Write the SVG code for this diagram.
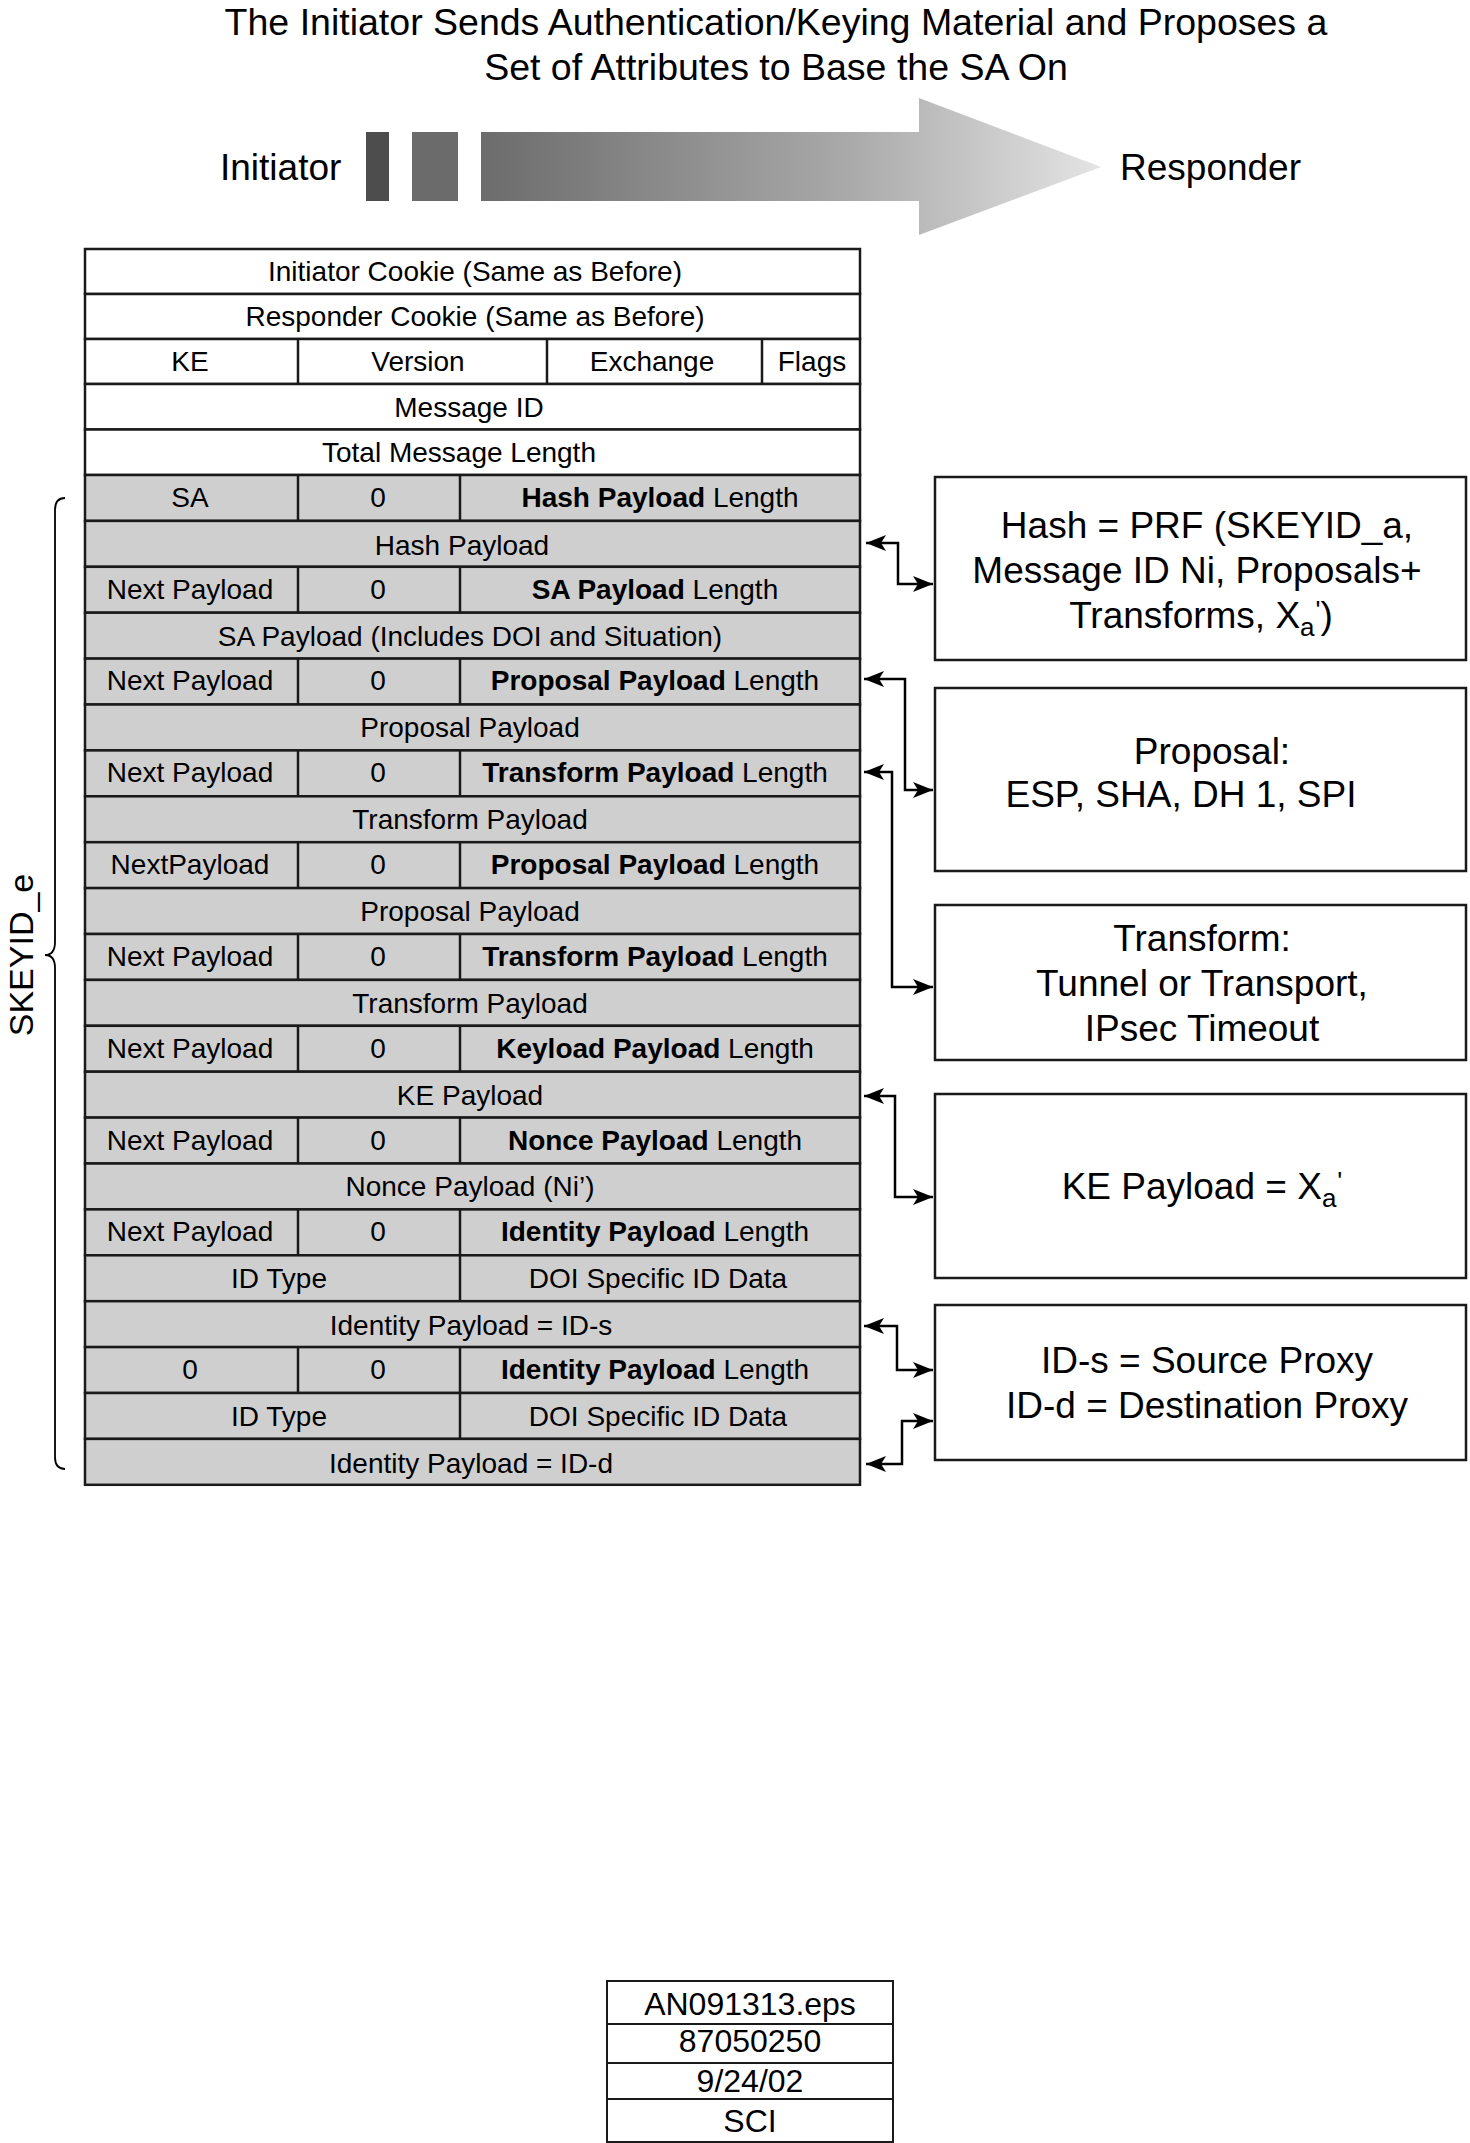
<svg xmlns="http://www.w3.org/2000/svg" width="1470" height="2143" viewBox="0 0 1470 2143">
<defs>
<style>
text{font-family:"Liberation Sans",Arial,Helvetica,sans-serif;fill:#000}
.t28{font-size:28px}
.t37{font-size:37px}
.m{text-anchor:middle}
.b{font-weight:bold}
.w{fill:#fff;stroke:#1a1a1a;stroke-width:2.5}
.g{fill:#cfcfcf;stroke:#1a1a1a;stroke-width:2.5}
.d{stroke:#1a1a1a;stroke-width:2.5}
.box{fill:#fff;stroke:#1a1a1a;stroke-width:2.5}
.c{fill:none;stroke:#000;stroke-width:2.5;marker-start:url(#ah);marker-end:url(#ah)}
</style>
<marker id="ah" viewBox="0 0 20 16" refX="20" refY="8" markerWidth="20" markerHeight="16" markerUnits="userSpaceOnUse" orient="auto-start-reverse">
<path d="M20,8 L0,0 L5,8 L0,16 Z" fill="#000"/>
</marker>
<linearGradient id="grad" gradientUnits="userSpaceOnUse" x1="481" y1="0" x2="1101" y2="0">
<stop offset="0" stop-color="#6c6c6c"/>
<stop offset="0.6" stop-color="#aaaaaa"/>
<stop offset="1" stop-color="#e4e4e4"/>
</linearGradient>
</defs>
<rect width="1470" height="2143" fill="#fff"/>

<g id="title">
<text class="m" font-size="37.5" x="776" y="35">The Initiator Sends Authentication/Keying Material and Proposes a</text>
<text class="m" font-size="37.5" x="776" y="80">Set of Attributes to Base the SA On</text>
</g>

<g id="flow">
<text class="t37" x="220" y="180">Initiator</text>
<rect x="366" y="132" width="23" height="69" fill="#4d4d4d"/>
<rect x="412" y="132" width="46" height="69" fill="#6b6b6b"/>
<polygon points="481,132 919,132 919,98 1101,167 919,235 919,201 481,201" fill="url(#grad)"/>
<text class="t37" x="1120" y="180">Responder</text>
</g>

<g id="header">
<g id="row-icookie"><rect class="w" x="85" y="249" width="775" height="45"/><text class="t28 m" x="475" y="281">Initiator Cookie (Same as Before)</text></g>
<g id="row-rcookie"><rect class="w" x="85" y="294" width="775" height="45"/><text class="t28 m" x="475" y="326">Responder Cookie (Same as Before)</text></g>
<g id="row-ke"><rect class="w" x="85" y="339" width="775" height="45"/><line class="d" x1="298" y1="339" x2="298" y2="384"/><line class="d" x1="547" y1="339" x2="547" y2="384"/><line class="d" x1="762" y1="339" x2="762" y2="384"/>
<text class="t28 m" x="190" y="371">KE</text><text class="t28 m" x="418" y="371">Version</text><text class="t28 m" x="652" y="371">Exchange</text><text class="t28 m" x="812" y="371">Flags</text></g>
<g id="row-msgid"><rect class="w" x="85" y="384" width="775" height="45.5"/><text class="t28 m" x="469" y="416.5">Message ID</text></g>
<g id="row-total"><rect class="w" x="85" y="429.5" width="775" height="45.5"/><text class="t28 m" x="459" y="461.5">Total Message Length</text></g>
</g>

<g id="payloads">
<g id="r0"><rect class="g" x="85" y="475" width="775" height="45.9"/><line class="d" x1="298" y1="475" x2="298" y2="520.9"/><line class="d" x1="460" y1="475" x2="460" y2="520.9"/>
<text class="t28 m" x="190" y="507">SA</text><text class="t28 m" x="378" y="507">0</text><text class="t28 m" x="660" y="507"><tspan class="b">Hash Payload</tspan> Length</text></g>
<g id="r1"><rect class="g" x="85" y="520.9" width="775" height="45.9"/><text class="t28 m" x="462" y="555">Hash Payload</text></g>
<g id="r2"><rect class="g" x="85" y="566.8" width="775" height="45.9"/><line class="d" x1="298" y1="566.8" x2="298" y2="612.7"/><line class="d" x1="460" y1="566.8" x2="460" y2="612.7"/>
<text class="t28 m" x="190" y="598.5">Next Payload</text><text class="t28 m" x="378" y="598.5">0</text><text class="t28 m" x="655" y="598.5"><tspan class="b">SA Payload</tspan> Length</text></g>
<g id="r3"><rect class="g" x="85" y="612.7" width="775" height="45.9"/><text class="t28 m" x="470" y="645.6">SA Payload (Includes DOI and Situation)</text></g>
<g id="r4"><rect class="g" x="85" y="658.6" width="775" height="45.9"/><line class="d" x1="298" y1="658.6" x2="298" y2="704.5"/><line class="d" x1="460" y1="658.6" x2="460" y2="704.5"/>
<text class="t28 m" x="190" y="690">Next Payload</text><text class="t28 m" x="378" y="690">0</text><text class="t28 m" x="655" y="690"><tspan class="b">Proposal Payload</tspan> Length</text></g>
<g id="r5"><rect class="g" x="85" y="704.5" width="775" height="45.9"/><text class="t28 m" x="470" y="737.4">Proposal Payload</text></g>
<g id="r6"><rect class="g" x="85" y="750.4" width="775" height="45.9"/><line class="d" x1="298" y1="750.4" x2="298" y2="796.3"/><line class="d" x1="460" y1="750.4" x2="460" y2="796.3"/>
<text class="t28 m" x="190" y="782">Next Payload</text><text class="t28 m" x="378" y="782">0</text><text class="t28 m" x="655" y="782"><tspan class="b">Transform Payload</tspan> Length</text></g>
<g id="r7"><rect class="g" x="85" y="796.3" width="775" height="45.9"/><text class="t28 m" x="470" y="829.2">Transform Payload</text></g>
<g id="r8"><rect class="g" x="85" y="842.2" width="775" height="45.9"/><line class="d" x1="298" y1="842.2" x2="298" y2="888.1"/><line class="d" x1="460" y1="842.2" x2="460" y2="888.1"/>
<text class="t28 m" x="190" y="874">NextPayload</text><text class="t28 m" x="378" y="874">0</text><text class="t28 m" x="655" y="874"><tspan class="b">Proposal Payload</tspan> Length</text></g>
<g id="r9"><rect class="g" x="85" y="888.1" width="775" height="45.9"/><text class="t28 m" x="470" y="921">Proposal Payload</text></g>
<g id="r10"><rect class="g" x="85" y="934" width="775" height="45.9"/><line class="d" x1="298" y1="934" x2="298" y2="979.9"/><line class="d" x1="460" y1="934" x2="460" y2="979.9"/>
<text class="t28 m" x="190" y="966">Next Payload</text><text class="t28 m" x="378" y="966">0</text><text class="t28 m" x="655" y="966"><tspan class="b">Transform Payload</tspan> Length</text></g>
<g id="r11"><rect class="g" x="85" y="979.9" width="775" height="45.9"/><text class="t28 m" x="470" y="1012.8">Transform Payload</text></g>
<g id="r12"><rect class="g" x="85" y="1025.8" width="775" height="45.9"/><line class="d" x1="298" y1="1025.8" x2="298" y2="1071.7"/><line class="d" x1="460" y1="1025.8" x2="460" y2="1071.7"/>
<text class="t28 m" x="190" y="1057.5">Next Payload</text><text class="t28 m" x="378" y="1057.5">0</text><text class="t28 m" x="655" y="1057.5"><tspan class="b">Keyload Payload</tspan> Length</text></g>
<g id="r13"><rect class="g" x="85" y="1071.7" width="775" height="45.9"/><text class="t28 m" x="470" y="1104.6">KE Payload</text></g>
<g id="r14"><rect class="g" x="85" y="1117.6" width="775" height="45.9"/><line class="d" x1="298" y1="1117.6" x2="298" y2="1163.5"/><line class="d" x1="460" y1="1117.6" x2="460" y2="1163.5"/>
<text class="t28 m" x="190" y="1149.5">Next Payload</text><text class="t28 m" x="378" y="1149.5">0</text><text class="t28 m" x="655" y="1149.5"><tspan class="b">Nonce Payload</tspan> Length</text></g>
<g id="r15"><rect class="g" x="85" y="1163.5" width="775" height="45.9"/><text class="t28 m" x="470" y="1196.4">Nonce Payload (Ni’)</text></g>
<g id="r16"><rect class="g" x="85" y="1209.4" width="775" height="45.9"/><line class="d" x1="298" y1="1209.4" x2="298" y2="1255.3"/><line class="d" x1="460" y1="1209.4" x2="460" y2="1255.3"/>
<text class="t28 m" x="190" y="1241">Next Payload</text><text class="t28 m" x="378" y="1241">0</text><text class="t28 m" x="655" y="1241"><tspan class="b">Identity Payload</tspan> Length</text></g>
<g id="r17"><rect class="g" x="85" y="1255.3" width="775" height="45.9"/><line class="d" x1="460" y1="1255.3" x2="460" y2="1301.2"/>
<text class="t28 m" x="279" y="1288.2">ID Type</text><text class="t28 m" x="658" y="1288.2">DOI Specific ID Data</text></g>
<g id="r18"><rect class="g" x="85" y="1301.2" width="775" height="45.9"/><text class="t28 m" x="471" y="1334.5">Identity Payload = ID-s</text></g>
<g id="r19"><rect class="g" x="85" y="1347.1" width="775" height="45.9"/><line class="d" x1="298" y1="1347.1" x2="298" y2="1393"/><line class="d" x1="460" y1="1347.1" x2="460" y2="1393"/>
<text class="t28 m" x="190" y="1379">0</text><text class="t28 m" x="378" y="1379">0</text><text class="t28 m" x="655" y="1379"><tspan class="b">Identity Payload</tspan> Length</text></g>
<g id="r20"><rect class="g" x="85" y="1393" width="775" height="45.9"/><line class="d" x1="460" y1="1393" x2="460" y2="1438.9"/>
<text class="t28 m" x="279" y="1426">ID Type</text><text class="t28 m" x="658" y="1426">DOI Specific ID Data</text></g>
<g id="r21"><rect class="g" x="85" y="1438.9" width="775" height="45.9"/><text class="t28 m" x="471" y="1473">Identity Payload = ID-d</text></g>
</g>

<g id="skeyid">
<path d="M65,498 Q55,498 55,510 L55,942 Q55,955 45,955 Q55,955 55,968 L55,1457 Q55,1469 65,1469" fill="none" stroke="#000" stroke-width="1.8"/>
<text transform="translate(33,955) rotate(-90)" class="m" font-size="34">SKEYID_e</text>
</g>

<g id="box-hash"><rect class="box" x="935" y="477" width="531" height="183"/>
<text class="t37 m" x="1207" y="538">Hash = PRF (SKEYID_a,</text>
<text class="t37 m" x="1197" y="583">Message ID Ni, Proposals+</text>
<text class="t37 m" x="1201" y="628">Transforms, X<tspan font-size="26" dy="8">a</tspan><tspan font-size="26" dx="1" dy="-17">'</tspan><tspan dy="9">)</tspan></text>
</g>
<g id="box-proposal"><rect class="box" x="935" y="688" width="531" height="183"/>
<text class="t37 m" x="1212" y="764">Proposal:</text>
<text class="t37 m" x="1181" y="807">ESP, SHA, DH 1, SPI</text>
</g>
<g id="box-transform"><rect class="box" x="935" y="905" width="531" height="155"/>
<text class="t37 m" x="1202" y="951">Transform:</text>
<text class="t37 m" x="1202" y="996">Tunnel or Transport,</text>
<text class="t37 m" x="1202" y="1041">IPsec Timeout</text>
</g>
<g id="box-ke"><rect class="box" x="935" y="1094" width="531" height="184"/>
<text class="t37 m" x="1202" y="1199">KE Payload = X<tspan font-size="26" dy="8">a</tspan><tspan font-size="26" dx="1" dy="-17">'</tspan></text>
</g>
<g id="box-id"><rect class="box" x="935" y="1305" width="531" height="155"/>
<text class="t37 m" x="1207" y="1373">ID-s = Source Proxy</text>
<text class="t37 m" x="1207" y="1418">ID-d = Destination Proxy</text>
</g>

<g id="connectors">
<path class="c" d="M866,543 H898 V584 H933"/>
<path class="c" d="M864,679 H905 V790 H933"/>
<path class="c" d="M864,772 H892 V987 H933"/>
<path class="c" d="M864,1096 H895 V1197 H933"/>
<path class="c" d="M864,1326 H897 V1370 H933"/>
<path class="c" d="M933,1421 H902 V1464 H866"/>
</g>

<g id="stamp">
<rect x="607" y="1981" width="286" height="161" fill="#fff" stroke="#1a1a1a" stroke-width="2"/>
<line x1="607" y1="2024" x2="893" y2="2024" stroke="#1a1a1a" stroke-width="2"/>
<line x1="607" y1="2063" x2="893" y2="2063" stroke="#1a1a1a" stroke-width="2"/>
<line x1="607" y1="2099" x2="893" y2="2099" stroke="#1a1a1a" stroke-width="2"/>
<text class="m" font-size="32" x="750" y="2015">AN091313.eps</text>
<text class="m" font-size="32" x="750" y="2052">87050250</text>
<text class="m" font-size="32" x="750" y="2092">9/24/02</text>
<text class="m" font-size="32" x="750" y="2132">SCI</text>
</g>
</svg>
